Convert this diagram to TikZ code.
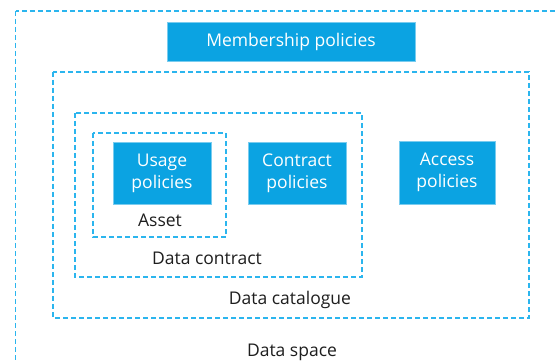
\documentclass[tikz,border=0pt]{standalone}
\usepackage{fontspec}
\setmainfont{Open Sans}
\usepackage{tikz}
\usetikzlibrary{positioning}

\definecolor{policyblue}{HTML}{0BA3E2}
\definecolor{dashblue}{HTML}{2BB5EE}
\definecolor{labelgrey}{HTML}{1E1E1E}

\begin{document}
\begin{tikzpicture}[x=1pt,y=-1pt,
    policy/.style = {fill=policyblue, draw=policyblue!55!white, line width=0.6pt,
        text=white, align=center, inner sep=0pt, font=\fontsize{17.5}{22}\selectfont},
    zone/.style = {draw=dashblue, line width=1.4pt, dash pattern=on 5pt off 3pt},
    zonelabel/.style = {text=labelgrey, font=\fontsize{17.5}{21}\selectfont}]
\clip (0,0) rectangle (556,363);
\fill[white] (0,0) rectangle (556,363);
% nested dashed areas
\draw[zone] (15.5,11) rectangle (600,400);
\draw[zone] (53,72) rectangle (529,318);
\draw[zone] (75,113) rectangle (362,277);
\draw[zone] (93,133) rectangle (226,237);
% policy boxes
\node[policy, minimum width=248, minimum height=39] (membership) at (291,41.5) {Membership policies};
\node[policy, minimum width=98, minimum height=62] (usage) at (162,173) {Usage\\policies};
\node[policy, minimum width=98, minimum height=62] (contract) at (297,173) {Contract\\policies};
\node[policy, minimum width=96, minimum height=63] (access) at (447,172.5) {Access\\policies};
% area names
\node[zonelabel] (asset) at (160,220) {Asset};
\node[zonelabel] (datacontract) at (207,258) {Data contract};
\node[zonelabel] (catalogue) at (290,300) {Data catalogue};
\node[zonelabel] (dataspace) at (292,352) {Data space};
\end{tikzpicture}
\end{document}
